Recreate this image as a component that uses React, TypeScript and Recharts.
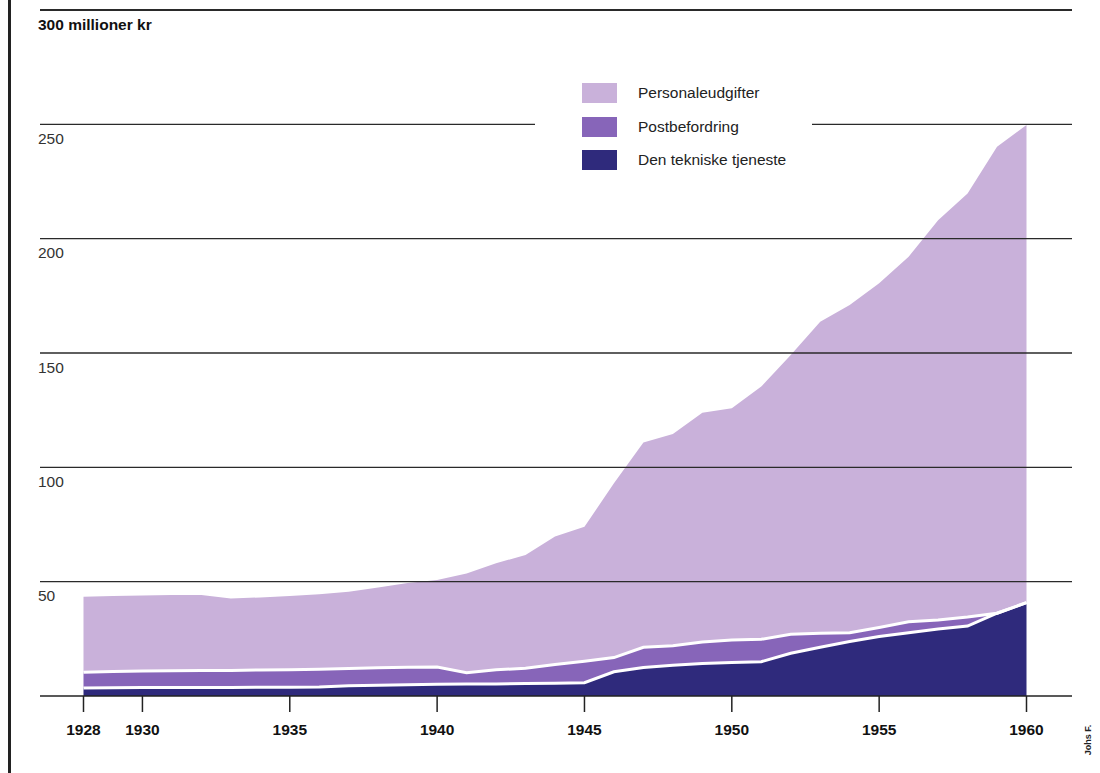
import { Area, AreaChart, ReferenceLine, XAxis, YAxis } from "recharts";

const years = [
  1928, 1929, 1930, 1931, 1932, 1933, 1934, 1935, 1936, 1937, 1938, 1939, 1940, 1941, 1942, 1943, 1944,
  1945, 1946, 1947, 1948, 1949, 1950, 1951, 1952, 1953, 1954, 1955, 1956, 1957, 1958, 1959, 1960,
];

// millioner kr
const teknisk = [
  3.5, 3.6, 3.7, 3.7, 3.7, 3.7, 3.8, 3.8, 3.9, 4.5, 4.7, 4.9, 5.1, 5.2, 5.3, 5.5, 5.6, 5.8, 10.6, 12.5,
  13.5, 14.2, 14.6, 15.0, 18.7, 21.3, 23.8, 26.0, 27.7, 29.3, 30.6, 36.2, 40.8,
];
const postbefordring = [
  6.9, 7.1, 7.2, 7.3, 7.4, 7.5, 7.6, 7.7, 7.8, 7.5, 7.6, 7.7, 7.6, 5.0, 6.2, 6.6, 8.2, 9.4, 6.2, 8.8, 8.5,
  9.4, 9.9, 9.8, 8.3, 6.1, 3.9, 4.0, 4.8, 3.9, 3.9, 0, 0,
];
const personale = [
  33.0, 33.0, 33.1, 33.2, 33.1, 31.4, 31.7, 32.2, 32.8, 33.6, 35.2, 36.8, 38.0, 43.4, 46.5, 49.6, 55.9,
  58.8, 76.2, 89.6, 92.6, 100.3, 101.3, 110.5, 122.1, 136.3, 143.3, 150.5, 159.6, 174.9, 185.3, 204.0,
  208.9,
];

const xTicks = [1928, 1930, 1935, 1940, 1945, 1950, 1955, 1960];
const yTicks = [50, 100, 150, 200, 250, 300];
const yLabels = ["50", "100", "150", "200", "250", "300 millioner kr"];

const legendItems = [
  { label: "Personaleudgifter", color: "#c9b1da" },
  { label: "Postbefordring", color: "#8765b9" },
  { label: "Den tekniske tjeneste", color: "#2f2a7c" },
];

const FONT = '"Liberation Sans", Arial, Helvetica, sans-serif';

const data = years.map((year, i) => ({
  year,
  teknisk: teknisk[i],
  post: postbefordring[i],
  personale: personale[i],
}));

// value label sits just under its grid line, flush with the line's left end
function gridLabel(text: string, strong: boolean) {
  return function GridLabel(props: { viewBox?: { x: number; y: number } }) {
    const vb = props.viewBox;
    if (!vb) return null;
    return (
      <text
        x={vb.x - 2}
        y={vb.y + 19.5}
        fontSize={15.5}
        fontWeight={strong ? "bold" : "normal"}
        fill={strong ? "#111" : "#333"}
        fontFamily={FONT}
      >
        {text}
      </text>
    );
  };
}

export default function App() {
  return (
    <div
      style={{
        position: "absolute",
        top: 0,
        left: 0,
        width: 1100,
        height: 773,
        background: "#fff",
        fontFamily: FONT,
        overflow: "hidden",
      }}
    >
      <div style={{ position: "absolute", left: 8, top: 0, width: 3, height: 773, background: "#222" }} />

      <AreaChart
        width={1100}
        height={773}
        data={data}
        margin={{ top: 10, right: 28, left: 40, bottom: 17 }}
      >
        <XAxis
          dataKey="year"
          type="number"
          domain={[1926.524, 1961.544]}
          ticks={xTicks}
          allowDataOverflow
          height={60}
          tickSize={16}
          tickMargin={12}
          axisLine={{ stroke: "#222", strokeWidth: 1.5 }}
          tickLine={{ stroke: "#222", strokeWidth: 1.5 }}
          tick={{ fontSize: 15.5, fill: "#111", fontFamily: FONT, fontWeight: "bold" }}
        />
        <YAxis type="number" domain={[0, 300]} ticks={yTicks} hide />
        <Area
          type="linear"
          dataKey="teknisk"
          stackId="fill"
          fill="#2f2a7c"
          fillOpacity={1}
          stroke="none"
          dot={false}
          activeDot={false}
          isAnimationActive={false}
        />
        <Area
          type="linear"
          dataKey="post"
          stackId="fill"
          fill="#8765b9"
          fillOpacity={1}
          stroke="none"
          dot={false}
          activeDot={false}
          isAnimationActive={false}
        />
        <Area
          type="linear"
          dataKey="personale"
          stackId="fill"
          fill="#c9b1da"
          fillOpacity={1}
          stroke="none"
          dot={false}
          activeDot={false}
          isAnimationActive={false}
        />
        {/* white separators between the layers, drawn on top */}
        <Area
          type="linear"
          dataKey="teknisk"
          stackId="lines"
          fill="none"
          stroke="#fff"
          strokeWidth={3}
          dot={false}
          activeDot={false}
          isAnimationActive={false}
        />
        <Area
          type="linear"
          dataKey="post"
          stackId="lines"
          fill="none"
          stroke="#fff"
          strokeWidth={3}
          dot={false}
          activeDot={false}
          isAnimationActive={false}
        />
        {yTicks.map((v, i) => {
          const Label = gridLabel(yLabels[i], v === 300);
          return (
            <ReferenceLine
              key={v}
              y={v}
              stroke="#2a2a2a"
              strokeWidth={v === 300 ? 2 : 1.4}
              label={<Label />}
            />
          );
        })}
      </AreaChart>

      <div
        style={{
          position: "absolute",
          left: 535,
          top: 70,
          width: 277,
          height: 112,
          background: "#fff",
        }}
      >
        {legendItems.map((item, i) => (
          <div
            key={item.label}
            style={{ position: "absolute", left: 47, top: 13 + i * 33.5, display: "flex", alignItems: "center" }}
          >
            <div style={{ width: 35, height: 20, background: item.color }} />
            <span style={{ marginLeft: 21, fontSize: 15.5, color: "#222" }}>{item.label}</span>
          </div>
        ))}
      </div>

      <div
        style={{
          position: "absolute",
          left: 1068,
          top: 735,
          width: 40,
          fontSize: 9,
          fontWeight: "bold",
          color: "#222",
          transform: "rotate(-90deg)",
          transformOrigin: "center",
          textAlign: "center",
        }}
      >
        Johs F.
      </div>
    </div>
  );
}
